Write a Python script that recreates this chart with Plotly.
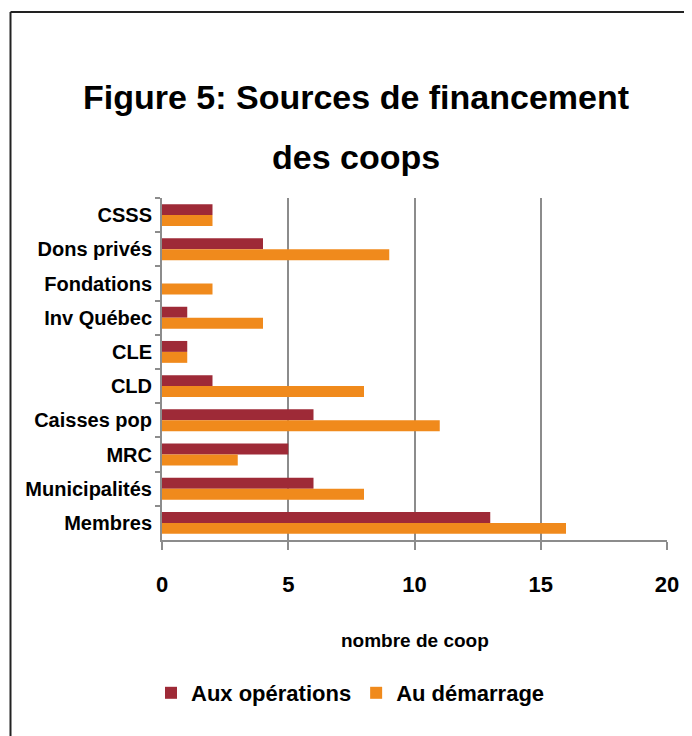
import plotly.graph_objects as go

categories = ["CSSS", "Dons privés", "Fondations", "Inv Québec", "CLE", "CLD",
              "Caisses pop", "MRC", "Municipalités", "Membres"]
aux_operations = [2, 4, 0, 1, 1, 2, 6, 5, 6, 13]
au_demarrage = [2, 9, 2, 4, 1, 8, 11, 3, 8, 16]
x_ticks = [0, 5, 10, 15, 20]

FONT = "Liberation Sans, Arial, sans-serif"
RED = "#9E2A37"
ORANGE = "#F08A1C"

fig = go.Figure()
fig.add_trace(go.Bar(y=categories, x=aux_operations, orientation="h",
                     name="Aux opérations", marker=dict(color=RED, line=dict(width=0))))
fig.add_trace(go.Bar(y=categories, x=au_demarrage, orientation="h",
                     name="Au démarrage", marker=dict(color=ORANGE, line=dict(width=0))))

OFF = 8  # page body margin
W, H = 692 - OFF, 736 - OFF
# plot area in reference (page) pixels
PL, PR, PT, PB = 162, 667, 198, 540
L, R, T, B = PL - OFF, W - (PR - OFF), PT - OFF, H - (PB - OFF)
pw = PR - PL
ph = PB - PT

def px(x):
    return (x - PL) / pw

def py(y):
    return (PB - y) / ph

fig.update_layout(
    width=W, height=H,
    margin=dict(l=L, r=R, t=T, b=B, autoexpand=False),
    paper_bgcolor="white", plot_bgcolor="white",
    barmode="group", bargap=0.36, bargroupgap=0,
    font=dict(family=FONT, color="black", size=20, weight="bold"),
    showlegend=True,
    legend=dict(orientation="h", x=px(151), xanchor="left", y=py(693), yanchor="middle",
                font=dict(family=FONT, size=22, color="black", weight="bold"),
                bgcolor="rgba(0,0,0,0)", itemwidth=30, tracegroupgap=0),
    xaxis=dict(range=[0, 20], tickvals=x_ticks, showgrid=True, gridcolor="#8c8c8c", gridwidth=2,
               zeroline=False, showline=True, linecolor="#8c8c8c", linewidth=2,
               ticks="outside", ticklen=8, tickwidth=2, tickcolor="#8c8c8c",
               ticklabelstandoff=16,
               tickfont=dict(family=FONT, size=22, color="black", weight="bold")),
    yaxis=dict(autorange="reversed", showgrid=False, zeroline=False, showline=True,
               linecolor="#8c8c8c", linewidth=2, ticks="outside", ticklen=5, tickwidth=2,
               tickcolor="#8c8c8c", tickson="boundaries", ticklabelstandoff=4,
               tickfont=dict(family=FONT, size=20, color="black", weight="bold")),
    annotations=[
        dict(text="Figure 5: Sources de financement", xref="paper", yref="paper",
             x=px(356), y=py(97), xanchor="center", yanchor="middle", showarrow=False,
             font=dict(family=FONT, size=34, color="black", weight="bold")),
        dict(text="des coops", xref="paper", yref="paper",
             x=px(356), y=py(157), xanchor="center", yanchor="middle", showarrow=False,
             font=dict(family=FONT, size=34, color="black", weight="bold")),
        dict(text="nombre de coop", xref="paper", yref="paper",
             x=0.5, y=py(640), xanchor="center", yanchor="middle", showarrow=False,
             font=dict(family=FONT, size=19, color="black", weight="bold")),
    ],
    shapes=[
        dict(type="line", xref="paper", yref="paper", x0=px(10.5), x1=px(10.5),
             y0=py(12), y1=py(745), line=dict(color="#222222", width=2)),
        dict(type="line", xref="paper", yref="paper", x0=px(10.5), x1=px(700),
             y0=py(12), y1=py(12), line=dict(color="#222222", width=2)),
    ],
)

fig.write_html("out.html")
